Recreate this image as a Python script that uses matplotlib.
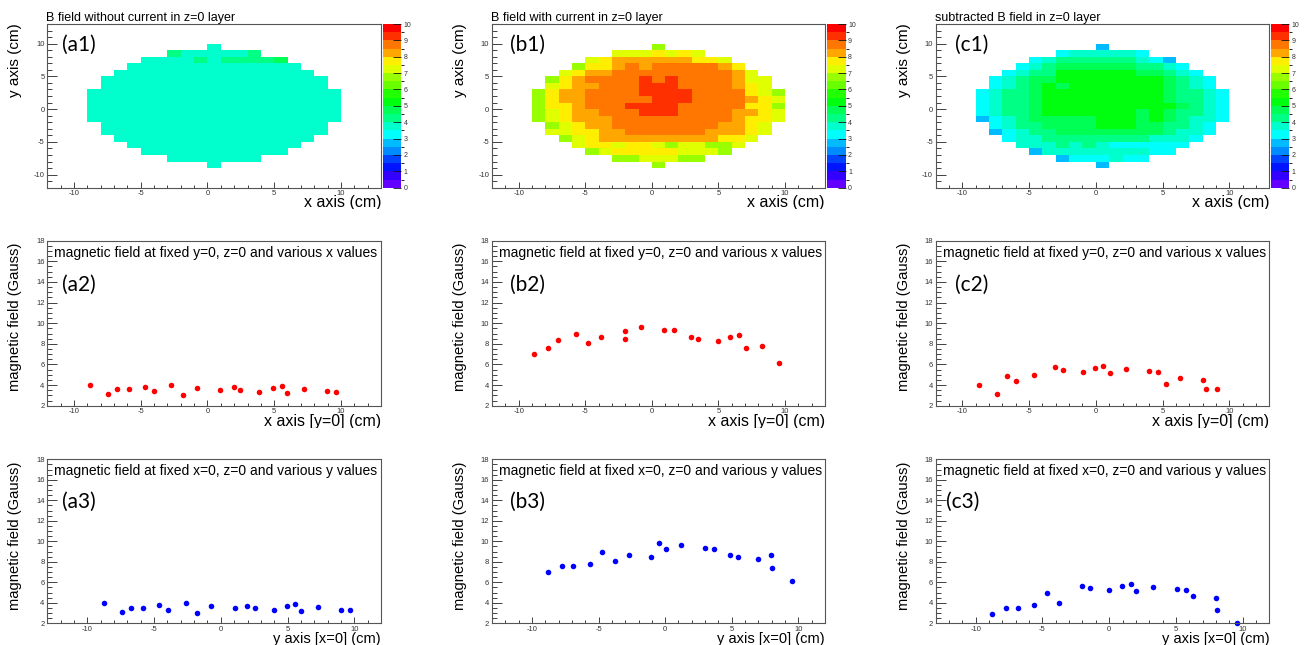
import colorsys
import numpy as np
import matplotlib
matplotlib.use("Agg")
import matplotlib.pyplot as plt
from matplotlib.colors import ListedColormap, BoundaryNorm
from matplotlib.ticker import MultipleLocator
from matplotlib.transforms import Bbox, TransformedBbox

plt.rcParams["font.family"] = ["Liberation Sans", "DejaVu Sans"]
plt.rcParams["axes.unicode_minus"] = False

# 1 cm cells of the z=0 layer, bin edges in cm
cell_edges = np.arange(-9, 11)

# rows run from y=9 (top) down to y=-9, columns from x=-9 to x=9; 0 = no measurement
B_without_current = [
    [0, 0, 0, 0, 0, 0, 0, 0, 0, 3.8, 0, 0, 0, 0, 0, 0, 0, 0, 0],
    [0, 0, 0, 0, 0, 0, 4.3, 3.8, 3.8, 3.8, 3.8, 3.8, 4.3, 0, 0, 0, 0, 0, 0],
    [0, 0, 0, 0, 3.8, 3.8, 3.8, 3.8, 4.3, 3.8, 4.3, 4.3, 4.3, 4.3, 4.8, 0, 0, 0, 0],
    [0, 0, 0, 3.8, 3.8, 3.8, 3.8, 3.8, 3.8, 3.8, 3.8, 3.8, 3.8, 3.8, 3.8, 3.8, 0, 0, 0],
    [0, 0, 3.8, 3.8, 3.8, 3.8, 3.8, 3.8, 3.8, 3.8, 3.8, 3.8, 3.8, 3.8, 3.8, 3.8, 3.8, 0, 0],
    [0, 3.8, 3.8, 3.8, 3.8, 3.8, 3.8, 3.8, 3.8, 3.8, 3.8, 3.8, 3.8, 3.8, 3.8, 3.8, 3.8, 3.8, 0],
    [0, 3.8, 3.8, 3.8, 3.8, 3.8, 3.8, 3.8, 3.8, 3.8, 3.8, 3.8, 3.8, 3.8, 3.8, 3.8, 3.8, 3.8, 0],
    [3.8, 3.8, 3.8, 3.8, 3.8, 3.8, 3.8, 3.8, 3.8, 3.8, 3.8, 3.8, 3.8, 3.8, 3.8, 3.8, 3.8, 3.8, 3.8],
    [3.8, 3.8, 3.8, 3.8, 3.8, 3.8, 3.8, 3.8, 3.8, 3.8, 3.8, 3.8, 3.8, 3.8, 3.8, 3.8, 3.8, 3.8, 3.8],
    [3.8, 3.8, 3.8, 3.8, 3.8, 3.8, 3.8, 3.8, 3.8, 3.8, 3.8, 3.8, 3.8, 3.8, 3.8, 3.8, 3.8, 3.8, 3.8],
    [3.8, 3.8, 3.8, 3.8, 3.8, 3.8, 3.8, 3.8, 3.8, 3.8, 3.8, 3.8, 3.8, 3.8, 3.8, 3.8, 3.8, 3.8, 3.8],
    [3.8, 3.8, 3.8, 3.8, 3.8, 3.8, 3.8, 3.8, 3.8, 3.8, 3.8, 3.8, 3.8, 3.8, 3.8, 3.8, 3.8, 3.8, 3.8],
    [0, 3.8, 3.8, 3.8, 3.8, 3.8, 3.8, 3.8, 3.8, 3.8, 3.8, 3.8, 3.8, 3.8, 3.8, 3.8, 3.8, 3.8, 0],
    [0, 3.8, 3.8, 3.8, 3.8, 3.8, 3.8, 3.8, 3.8, 3.8, 3.8, 3.8, 3.8, 3.8, 3.8, 3.8, 3.8, 3.8, 0],
    [0, 0, 3.8, 3.8, 3.8, 3.8, 3.8, 3.8, 3.8, 3.8, 3.8, 3.8, 3.8, 3.8, 3.8, 3.8, 3.8, 0, 0],
    [0, 0, 0, 3.8, 3.8, 3.8, 3.8, 3.8, 3.8, 3.8, 3.8, 3.8, 3.8, 3.8, 3.8, 3.8, 0, 0, 0],
    [0, 0, 0, 0, 3.8, 3.8, 3.8, 3.8, 3.8, 3.8, 3.8, 3.8, 3.8, 3.8, 3.8, 0, 0, 0, 0],
    [0, 0, 0, 0, 0, 0, 3.8, 3.8, 3.8, 3.8, 3.8, 3.8, 3.8, 0, 0, 0, 0, 0, 0],
    [0, 0, 0, 0, 0, 0, 0, 0, 0, 3.8, 0, 0, 0, 0, 0, 0, 0, 0, 0],
]

B_with_current = [
    [0, 0, 0, 0, 0, 0, 0, 0, 0, 6.8, 0, 0, 0, 0, 0, 0, 0, 0, 0],
    [0, 0, 0, 0, 0, 0, 7.3, 7.3, 7.3, 7.8, 7.3, 7.8, 7.3, 0, 0, 0, 0, 0, 0],
    [0, 0, 0, 0, 7.3, 7.8, 8.3, 8.3, 8.3, 8.3, 8.3, 8.3, 7.8, 7.8, 7.3, 0, 0, 0, 0],
    [0, 0, 0, 6.8, 7.8, 7.8, 8.3, 8.8, 8.3, 8.8, 8.8, 8.8, 8.8, 8.8, 8.3, 7.8, 0, 0, 0],
    [0, 0, 7.3, 7.8, 8.3, 8.3, 8.8, 8.8, 8.8, 8.8, 8.8, 8.8, 8.8, 8.8, 8.8, 8.3, 7.3, 0, 0],
    [0, 6.8, 7.8, 8.3, 8.8, 8.8, 8.8, 8.8, 9.3, 8.8, 9.3, 8.8, 8.8, 8.8, 8.8, 8.3, 7.3, 7.3, 0],
    [0, 7.3, 7.8, 8.3, 8.3, 8.8, 8.8, 8.8, 9.3, 9.3, 9.3, 8.8, 8.8, 8.8, 8.8, 8.3, 7.8, 7.3, 0],
    [6.8, 7.8, 8.3, 8.3, 8.8, 8.8, 8.8, 8.8, 9.3, 9.3, 9.3, 9.3, 8.8, 8.8, 8.8, 8.8, 7.8, 7.3, 6.8],
    [6.8, 7.8, 8.3, 8.3, 8.8, 8.8, 8.8, 8.8, 8.8, 9.3, 9.3, 9.3, 8.8, 8.8, 8.8, 8.8, 8.3, 7.8, 7.3],
    [6.8, 7.8, 7.8, 8.3, 8.8, 8.8, 8.8, 9.3, 9.3, 9.3, 9.3, 8.8, 8.8, 8.8, 8.8, 8.8, 7.8, 7.8, 6.8],
    [6.8, 7.3, 7.8, 8.3, 8.3, 8.8, 8.8, 8.8, 9.3, 9.3, 9.3, 8.8, 8.8, 8.8, 8.8, 8.3, 8.3, 7.8, 7.3],
    [6.8, 7.3, 7.8, 8.3, 8.3, 8.3, 8.8, 8.8, 8.8, 8.8, 8.8, 8.8, 8.8, 8.8, 8.8, 8.3, 7.8, 7.8, 7.3],
    [0, 6.8, 7.3, 7.8, 8.3, 8.3, 8.8, 8.8, 8.8, 8.8, 8.8, 8.8, 8.8, 8.8, 8.3, 8.3, 7.8, 7.3, 0],
    [0, 7.3, 7.3, 7.8, 7.8, 8.3, 8.3, 8.8, 8.8, 8.8, 8.8, 8.8, 8.8, 8.3, 8.3, 8.3, 7.8, 7.3, 0],
    [0, 0, 6.8, 7.3, 7.8, 8.3, 8.3, 8.3, 8.3, 8.3, 8.3, 8.3, 8.3, 8.3, 7.8, 7.8, 7.3, 0, 0],
    [0, 0, 0, 7.3, 7.8, 7.8, 7.3, 7.8, 7.8, 7.3, 6.8, 7.3, 7.3, 6.8, 6.8, 7.3, 0, 0, 0],
    [0, 0, 0, 0, 6.8, 7.3, 7.8, 7.8, 7.8, 7.8, 7.8, 7.3, 7.3, 7.3, 6.8, 0, 0, 0, 0],
    [0, 0, 0, 0, 0, 0, 6.8, 6.8, 7.3, 7.3, 7.3, 6.8, 6.8, 0, 0, 0, 0, 0, 0],
    [0, 0, 0, 0, 0, 0, 0, 0, 0, 6.8, 0, 0, 0, 0, 0, 0, 0, 0, 0],
]

B_subtracted = [
    [0, 0, 0, 0, 0, 0, 0, 0, 0, 2.8, 0, 0, 0, 0, 0, 0, 0, 0, 0],
    [0, 0, 0, 0, 0, 0, 3.3, 3.8, 3.8, 3.8, 3.8, 3.8, 3.3, 0, 0, 0, 0, 0, 0],
    [0, 0, 0, 0, 3.3, 3.8, 4.3, 4.3, 4.3, 4.3, 4.3, 4.3, 3.8, 3.3, 2.8, 0, 0, 0, 0],
    [0, 0, 0, 3.3, 3.8, 4.3, 4.8, 4.8, 4.8, 4.8, 4.8, 4.8, 4.3, 4.3, 3.8, 3.3, 0, 0, 0],
    [0, 0, 3.3, 3.8, 4.3, 4.3, 5.3, 5.3, 5.3, 5.3, 5.3, 5.3, 4.8, 4.8, 4.3, 3.8, 3.3, 0, 0],
    [0, 3.3, 3.8, 4.3, 4.8, 4.8, 5.3, 5.3, 5.3, 5.3, 5.3, 5.3, 5.3, 5.3, 4.8, 4.3, 3.8, 3.3, 0],
    [0, 3.3, 3.8, 4.3, 4.8, 5.3, 4.8, 5.3, 5.3, 5.3, 5.3, 5.3, 5.3, 5.3, 4.8, 4.3, 3.8, 3.3, 0],
    [3.3, 3.8, 4.3, 4.3, 4.8, 5.3, 5.3, 5.3, 5.3, 5.3, 5.3, 5.3, 5.3, 5.3, 4.8, 4.3, 4.3, 3.8, 3.3],
    [3.3, 3.8, 4.3, 4.3, 4.8, 5.3, 5.3, 5.3, 5.3, 5.3, 5.3, 5.3, 5.3, 5.3, 4.8, 4.3, 4.3, 3.8, 3.3],
    [3.3, 3.8, 4.3, 4.3, 4.8, 5.3, 5.3, 5.3, 5.3, 5.3, 5.3, 5.3, 5.3, 5.3, 5.3, 4.8, 4.3, 3.8, 3.3],
    [3.3, 3.8, 4.3, 4.3, 4.8, 5.3, 5.3, 5.3, 5.3, 5.3, 5.3, 5.3, 4.8, 5.3, 4.8, 4.3, 4.3, 3.8, 3.3],
    [2.8, 3.3, 3.8, 4.3, 4.8, 4.8, 4.8, 4.8, 4.8, 5.3, 5.3, 5.3, 4.8, 5.3, 4.8, 4.3, 3.8, 3.8, 3.3],
    [0, 3.3, 3.8, 4.3, 4.3, 4.8, 4.8, 4.8, 4.8, 5.3, 5.3, 5.3, 4.8, 4.8, 4.3, 4.3, 3.8, 3.3, 0],
    [0, 2.8, 3.3, 3.8, 4.3, 4.3, 4.8, 4.8, 4.8, 4.8, 4.8, 4.8, 4.8, 4.8, 4.3, 3.8, 3.8, 3.3, 0],
    [0, 0, 3.3, 3.8, 3.8, 4.3, 4.3, 4.3, 4.3, 4.3, 4.3, 4.3, 4.3, 3.8, 3.8, 3.8, 3.3, 0, 0],
    [0, 0, 0, 3.8, 3.8, 3.8, 4.3, 3.8, 4.3, 3.8, 3.3, 3.3, 3.3, 3.3, 3.3, 3.3, 0, 0, 0],
    [0, 0, 0, 0, 2.8, 3.8, 3.8, 3.8, 3.8, 3.8, 3.8, 3.8, 3.8, 3.3, 3.3, 0, 0, 0, 0],
    [0, 0, 0, 0, 0, 0, 2.8, 3.3, 3.3, 3.3, 3.8, 3.3, 3.3, 0, 0, 0, 0, 0, 0],
    [0, 0, 0, 0, 0, 0, 0, 0, 0, 2.8, 0, 0, 0, 0, 0, 0, 0, 0, 0],
]

# scans along x at y=0, z=0 (Gauss)
xscan_a_pos = [-8.83, -7.48, -6.78, -5.91, -4.66, -3.99, -2.72, -1.80, -0.75, 0.95,
               1.95, 2.47, 3.89, 4.89, 5.59, 5.99, 7.23, 8.95, 9.65]
xscan_a_B = [4.04, 3.13, 3.58, 3.58, 3.84, 3.39, 4.04, 3.07, 3.75, 3.52,
             3.78, 3.52, 3.33, 3.71, 3.91, 3.26, 3.65, 3.39, 3.33]
xscan_b_pos = [-8.83, -7.81, -7.01, -5.71, -4.81, -3.79, -2.02, -2.02, -0.80, 0.95,
               1.67, 2.92, 3.49, 4.94, 5.86, 6.53, 7.08, 8.30, 9.53]
xscan_b_B = [7.01, 7.56, 8.40, 8.98, 8.08, 8.69, 9.24, 8.46, 9.60, 9.34,
             9.30, 8.69, 8.50, 8.27, 8.66, 8.82, 7.59, 7.82, 6.10]
xscan_c_pos = [-8.78, -7.43, -6.63, -5.96, -4.66, -3.04, -2.47, -0.97, -0.05, 0.57,
               1.05, 2.24, 4.01, 4.69, 5.24, 6.28, 8.00, 8.25, 9.08]
xscan_c_B = [4.04, 3.13, 4.84, 4.39, 4.97, 5.75, 5.46, 5.30, 5.68, 5.88,
             5.20, 5.59, 5.33, 5.26, 4.10, 4.71, 4.52, 3.58, 3.58]

# scans along y at x=0, z=0 (Gauss)
yscan_a_pos = [-8.75, -7.41, -6.73, -5.86, -4.61, -3.92, -2.64, -1.75, -0.72, 1.05,
               1.97, 2.54, 4.01, 4.94, 5.59, 6.03, 7.28, 9.03, 9.70]
yscan_a_B = [3.98, 3.07, 3.53, 3.53, 3.79, 3.33, 3.98, 3.01, 3.72, 3.46,
             3.72, 3.46, 3.27, 3.66, 3.85, 3.20, 3.59, 3.33, 3.27]
yscan_b_pos = [-8.83, -7.78, -6.89, -5.67, -4.72, -3.77, -2.75, -1.03, -0.44, 0.04,
               1.21, 2.98, 3.65, 4.89, 5.49, 6.96, 7.91, 8.01, 9.50]
yscan_b_B = [6.98, 7.56, 7.56, 7.82, 8.96, 8.05, 8.70, 8.44, 9.84, 9.22,
             9.61, 9.38, 9.28, 8.70, 8.50, 8.28, 8.63, 7.37, 6.10]
yscan_c_pos = [-8.78, -7.73, -6.86, -5.61, -4.64, -3.74, -2.02, -1.42, 0.02, 0.97,
               1.62, 2.04, 3.32, 5.07, 5.74, 6.31, 8.03, 8.08, 9.60]
yscan_c_B = [2.94, 3.53, 3.53, 3.79, 4.93, 4.02, 5.68, 5.45, 5.26, 5.65,
             5.84, 5.19, 5.58, 5.32, 5.26, 4.70, 4.50, 3.33, 2.07]

map_titles = ["B field without current in z=0 layer",
              "B field with current in z=0 layer",
              "subtracted B field in z=0 layer"]


def root_palette(ncont=20, npal=50):
    # old ROOT "pretty" palette: 50 HLS colours violet -> red, picked per contour
    cols = []
    for k in range(ncont):
        i = int((k + 0.99) * npal / ncont)
        hue = 280.0 - (i + 1) * 280.0 / npal
        cols.append(colorsys.hls_to_rgb(hue / 360.0, 0.5, 1.0))
    return ListedColormap(cols)


W, H = 1304, 645
fig = plt.figure(figsize=(W / 100, H / 100), dpi=100)


def rect(x0, x1, y0, y1):
    return [x0 / W, 1 - y1 / H, (x1 - x0) / W, (y1 - y0) / H]


def fpos(x, y):
    return x / W, 1 - y / H


def style_axes(ax, ymajor, yminor):
    ax.xaxis.set_major_locator(MultipleLocator(5))
    ax.xaxis.set_minor_locator(MultipleLocator(1))
    ax.yaxis.set_major_locator(MultipleLocator(ymajor))
    ax.yaxis.set_minor_locator(MultipleLocator(yminor))
    ax.tick_params(which="both", direction="in", top=False, right=False,
                   labelsize=5.5, labelcolor="#333333", color="#222222", width=0.6, pad=2)
    ax.tick_params(axis="y", which="major", length=7)
    ax.tick_params(axis="y", which="minor", length=3.5)
    ax.tick_params(axis="x", which="major", length=4.5)
    ax.tick_params(axis="x", which="minor", length=2.2)
    for s in ax.spines.values():
        s.set_linewidth(0.8)
        s.set_color("#555555")


def clipped_label(text, x, y, cut):
    t = fig.text(*fpos(x, y), text, ha="right", va="baseline", fontsize=11.5)
    t.set_clip_box(TransformedBbox(Bbox([[0, 1 - cut / H], [1, 1]]), fig.transFigure))
    t.set_clip_on(True)
    return t


cmap = root_palette()
norm = BoundaryNorm(np.arange(0, 10.5, 0.5), cmap.N)

frames_x = [(47.3, 381.0), (492.0, 825.0), (935.7, 1269.3)]
cbar_x = [(382.7, 401.3), (826.7, 846.0), (1270.7, 1289.3)]
label_x = [62, 510, 955]
grids = [B_without_current, B_with_current, B_subtracted]

# top row: field maps
for col, grid in enumerate(grids):
    x0, x1 = frames_x[col]
    ax = fig.add_axes(rect(x0, x1, 24, 187.7))
    z = np.flipud(np.array(grid, dtype=float))
    z = np.ma.masked_where(z == 0, z)
    mesh = ax.pcolormesh(cell_edges, cell_edges, z, cmap=cmap, norm=norm)
    ax.set_xlim(-12, 13)
    ax.set_ylim(-12, 13)
    style_axes(ax, 5, 1)
    cax = fig.add_axes(rect(cbar_x[col][0], cbar_x[col][1], 24, 187.7))
    cb = fig.colorbar(mesh, cax=cax, ticks=range(0, 11))
    cb.outline.set_visible(False)
    cax.tick_params(direction="in", length=6, width=0.6, color="#111111",
                    labelsize=5, pad=1.5, labelcolor="#333333")
    fig.text(*fpos(x0 - 1, 20.5), map_titles[col], ha="left", va="baseline", fontsize=9)
    fig.text(*fpos(x0 - 32, 23), "y axis (cm)", rotation=90, ha="center", va="top", fontsize=11)
    clipped_label("x axis (cm)", x1, 207, 209)
    fig.text(*fpos(label_x[col], 45), "(%s1)" % "abc"[col], family=["Lato", "DejaVu Sans"],
             fontsize=15, ha="left", va="center")

# middle row: scans along x
xscans = [(xscan_a_pos, xscan_a_B), (xscan_b_pos, xscan_b_B), (xscan_c_pos, xscan_c_B)]
for col, (pos, val) in enumerate(xscans):
    x0, x1 = frames_x[col]
    ax = fig.add_axes(rect(x0, x1, 240.7, 405.7))
    ax.plot(pos, val, "o", color="#ff0000", ms=4, mec="none", clip_on=False)
    ax.set_xlim(-12, 13)
    ax.set_ylim(2, 18)
    style_axes(ax, 2, 0.5)
    fig.text(*fpos(x0 + 7, 256.5), "magnetic field at fixed y=0, z=0 and various x values",
             ha="left", va="baseline", fontsize=10)
    fig.text(*fpos(x0 - 32, 243), "magnetic field (Gauss)", rotation=90,
             ha="center", va="top", fontsize=10.6)
    clipped_label("x axis [y=0] (cm)", x1, 426, 427.5)
    fig.text(*fpos(label_x[col], 284.5), "(%s2)" % "abc"[col], family=["Lato", "DejaVu Sans"],
             fontsize=15, ha="left", va="center")

# bottom row: scans along y
yscans = [(yscan_a_pos, yscan_a_B), (yscan_b_pos, yscan_b_B), (yscan_c_pos, yscan_c_B)]
label3_x = [62, 510, 946]
for col, (pos, val) in enumerate(yscans):
    x0, x1 = frames_x[col]
    ax = fig.add_axes(rect(x0, x1, 459.3, 623.3))
    ax.plot(pos, val, "o", color="#0000ff", ms=4, mec="none", clip_on=False)
    ax.set_xlim(-13, 12)
    ax.set_ylim(2, 18)
    style_axes(ax, 2, 0.5)
    fig.text(*fpos(x0 + 7, 474.5), "magnetic field at fixed x=0, z=0 and various y values",
             ha="left", va="baseline", fontsize=10)
    fig.text(*fpos(x0 - 32, 461.5), "magnetic field (Gauss)", rotation=90,
             ha="center", va="top", fontsize=10.6)
    fig.text(*fpos(x1, 643), "y axis [x=0] (cm)", ha="right", va="baseline", fontsize=10.5)
    fig.text(*fpos(label3_x[col], 502), "(%s3)" % "abc"[col], family=["Lato", "DejaVu Sans"],
             fontsize=15, ha="left", va="center")

fig.savefig("out.png", dpi=100)
